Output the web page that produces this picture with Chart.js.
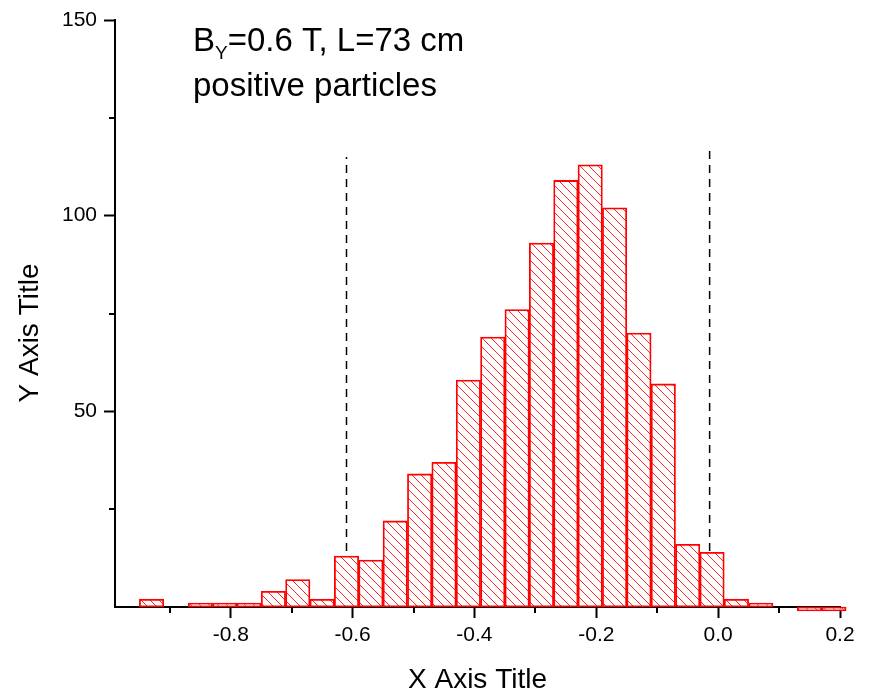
<!DOCTYPE html>
<html>
<head>
<meta charset="utf-8">
<script src="https://cdn.jsdelivr.net/npm/chart.js@4.4.1/dist/chart.umd.min.js"></script>
<style>
  html, body { margin: 0; padding: 0; background: #fff; }
  #wrap { width: 872px; height: 695px; }
</style>
</head>
<body>
<div id="wrap"><canvas id="chart" width="872" height="695"></canvas></div>
<script>
// histogram bins (centre of each 0.04 wide bin) and counts
const binCenters = [-0.93, -0.89, -0.85, -0.81, -0.77, -0.73, -0.69, -0.65, -0.61, -0.57,
                    -0.53, -0.49, -0.45, -0.41, -0.37, -0.33, -0.29, -0.25, -0.21, -0.17,
                    -0.13, -0.09, -0.05, -0.01, 0.03, 0.07, 0.11, 0.15, 0.19];
const counts = [2, 0, 1, 1, 1, 4, 7, 2, 13, 12,
                22, 34, 37, 58, 69, 76, 93, 109, 113, 102,
                70, 57, 16, 14, 2, 1, 0, -1, -1];

// dashed cut markers
const cutLeftX = [-0.61, -0.61];
const cutLeftY = [0, 115];
const cutRightX = [-0.014, -0.014];
const cutRightY = [0, 117];

const xTicks = [-0.9, -0.8, -0.7, -0.6, -0.5, -0.4, -0.3, -0.2, -0.1, 0.0, 0.1, 0.2];
const yTicks = [25, 50, 75, 100, 125, 150];
const xMajor = [-0.8, -0.6, -0.4, -0.2, 0.0, 0.2];
const yMajor = [50, 100, 150];

const FONT = '"Liberation Sans", Arial, sans-serif';

function isMajor(list, v) {
    return list.some(m => Math.abs(m - v) < 1e-6);
}

function tickCol(list) {
    return c => (c.tick && isMajor(list, c.tick.value)) ? '#000' : 'rgba(0,0,0,0)';
}

// diagonal hatch fill like the original
function makeHatch() {
    const s = 9;
    const c = document.createElement('canvas');
    c.width = s; c.height = s;
    const g = c.getContext('2d');
    g.fillStyle = '#fff';
    g.fillRect(0, 0, s, s);
    g.strokeStyle = 'rgba(255,0,0,0.85)';
    g.lineWidth = 1;
    g.beginPath();
    g.moveTo(0, 0); g.lineTo(s, s);
    g.moveTo(-1, s - 1); g.lineTo(1, s + 1);
    g.moveTo(s - 1, -1); g.lineTo(s + 1, 1);
    g.stroke();
    return c;
}

const ctx = document.getElementById('chart').getContext('2d');
const hatch = ctx.createPattern(makeHatch(), 'repeat');

// minor ticks, axis titles and the text block in the top left
const extras = {
    id: 'extras',
    afterDraw(chart) {
        const c = chart.ctx;
        const xs = chart.scales.x, ys = chart.scales.y;
        c.save();
        c.strokeStyle = '#000';
        c.lineWidth = 2;
        c.beginPath();
        xTicks.filter(v => !isMajor(xMajor, v)).forEach(v => {
            const px = Math.round(xs.getPixelForValue(v));
            c.moveTo(px, ys.bottom);
            c.lineTo(px, ys.bottom + 6);
        });
        yTicks.filter(v => !isMajor(yMajor, v)).forEach(v => {
            const py = Math.round(ys.getPixelForValue(v));
            c.moveTo(xs.left, py);
            c.lineTo(xs.left - 6, py);
        });
        c.stroke();

        c.fillStyle = '#000';
        c.font = '28px ' + FONT;
        c.textAlign = 'center';
        c.textBaseline = 'middle';
        c.fillText('X Axis Title', (xs.left + xs.right) / 2, 680);
        c.save();
        c.translate(30, 333);
        c.rotate(-Math.PI / 2);
        c.fillText('Y Axis Title', 0, 0);
        c.restore();

        c.textBaseline = 'alphabetic';
        c.textAlign = 'left';
        let x = 193;
        c.font = '33px ' + FONT;
        c.fillText('B', x, 51);
        x += c.measureText('B').width;
        c.font = '19px ' + FONT;
        c.fillText('Y', x, 59);
        x += c.measureText('Y').width;
        c.font = '33px ' + FONT;
        c.fillText('=0.6 T, L=73 cm', x, 51);
        c.fillText('positive particles', 193, 96);
        c.restore();
    }
};

new Chart(ctx, {
    data: {
        datasets: [
            {
                type: 'bar',
                data: binCenters.map((x, i) => ({ x: x, y: counts[i] })),
                backgroundColor: hatch,
                borderColor: '#ff0000',
                borderWidth: 1.8,
                borderSkipped: false,
                barPercentage: 1,
                categoryPercentage: 1,
                clip: false
            },
            {
                type: 'scatter',
                data: cutLeftX.map((x, i) => ({ x: x, y: cutLeftY[i] })),
                showLine: true,
                borderColor: '#000',
                borderWidth: 1.5,
                borderDash: [8, 6],
                pointRadius: 0
            },
            {
                type: 'scatter',
                data: cutRightX.map((x, i) => ({ x: x, y: cutRightY[i] })),
                showLine: true,
                borderColor: '#000',
                borderWidth: 1.5,
                borderDash: [8, 6],
                pointRadius: 0
            }
        ]
    },
    options: {
        responsive: false,
        animation: false,
        devicePixelRatio: 1,
        layout: { padding: { top: 20, right: 32, left: 0, bottom: 0 } },
        plugins: {
            legend: { display: false },
            tooltip: { enabled: false }
        },
        scales: {
            x: {
                type: 'linear',
                min: -0.99,
                max: 0.2,
                offset: false,
                z: 1,
                afterBuildTicks: s => { s.ticks = xTicks.map(v => ({ value: v })); },
                afterFit: s => { s.height = 88; },
                grid: {
                    offset: false,
                    drawOnChartArea: false,
                    tickLength: 11,
                    tickWidth: 2,
                    tickColor: tickCol(xMajor)
                },
                border: { color: '#000', width: 2 },
                ticks: {
                    autoSkip: false,
                    maxRotation: 0,
                    padding: 5,
                    color: '#000',
                    font: { family: FONT, size: 21 },
                    callback: v => isMajor(xMajor, v) ? v.toFixed(1) : ''
                }
            },
            y: {
                type: 'linear',
                min: 0,
                max: 150,
                z: 1,
                afterBuildTicks: s => { s.ticks = yTicks.map(v => ({ value: v })); },
                afterFit: s => { s.width = 115; },
                grid: {
                    drawOnChartArea: false,
                    tickLength: 11,
                    tickWidth: 2,
                    tickColor: tickCol(yMajor)
                },
                border: { color: '#000', width: 2 },
                ticks: {
                    autoSkip: false,
                    padding: 7,
                    color: '#000',
                    font: { family: FONT, size: 21 },
                    callback: v => isMajor(yMajor, v) ? String(v) : ''
                }
            }
        }
    },
    plugins: [extras]
});
</script>
</body>
</html>
